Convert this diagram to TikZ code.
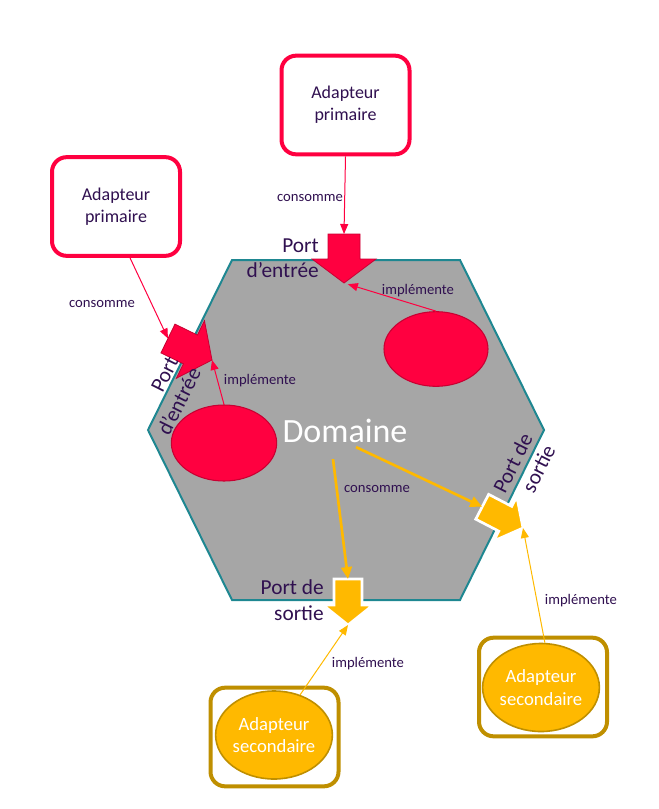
\documentclass[tikz,border=0pt]{standalone}
\usepackage{fontspec}
\setmainfont{Carlito}
\usetikzlibrary{shapes.geometric,arrows.meta,calc}
\definecolor{redA}{RGB}{255,0,64}
\definecolor{redD}{RGB}{200,0,50}
\definecolor{yelA}{RGB}{255,185,0}
\definecolor{goldD}{RGB}{191,143,0}
\definecolor{tealH}{RGB}{30,135,145}
\definecolor{hexg}{RGB}{166,166,166}
\definecolor{txt}{RGB}{48,16,80}
\begin{document}
\begin{tikzpicture}[x=0.75pt,y=-0.75pt,
 pbox/.style={draw=redA, line width=3pt, fill=white, rounded corners=11pt, minimum width=96pt, minimum height=74pt, align=center, text=txt, font=\fontsize{13.5}{16.5}\selectfont},
 sbox/.style={draw=goldD, line width=3pt, rounded corners=11pt, minimum width=96pt, minimum height=74pt},
 rell/.style={ellipse, draw=redD, line width=0.8pt, fill=redA, minimum width=78pt, minimum height=56pt, inner sep=0pt},
 yell/.style={ellipse, draw=goldD, line width=1.2pt, fill=yelA, minimum width=79.5pt, minimum height=66pt, inner sep=0pt, align=center, text=white, font=\fontsize{14}{17}\selectfont},
 lbl/.style={text=txt, font=\fontsize{11}{13}\selectfont, inner sep=0pt},
 portlbl/.style={text=txt, font=\fontsize{16}{19}\selectfont, align=right, inner sep=0pt},
 redline/.style={draw=redA, line width=0.75pt, -{Triangle[length=7.5pt,width=6pt]}},
 yelthin/.style={draw=yelA, line width=0.75pt, -{Triangle[length=7.5pt,width=6pt]}},
 yelthick/.style={draw=yelA, line width=2pt, -{Triangle[length=9pt,width=8pt]}},
 rport/.style={fill=redA, draw=redD, line width=0.6pt, line join=miter},
 yport/.style={fill=yelA, draw=white, line width=2pt, line join=miter},
]
\useasboundingbox (0,0) rectangle (658,809);

% hexagon (domain)
\draw[fill=hexg, draw=tealH, line width=1.5pt] (232,260) -- (460,260) -- (544,430) -- (460,600) -- (232,600) -- (148,430) -- cycle;

% primary ports
\begin{scope}[shift={(344,283)}]
 \draw[rport] (0,0) -- (-32,-24) -- (-16,-24) -- (-16,-49) -- (16,-49) -- (16,-24) -- (32,-24) -- cycle;
 \coordinate (tipT) at (0,0); \coordinate (backT) at (0,-49);
\end{scope}
\begin{scope}[shift={(212,360)}, rotate=64]
 \draw[rport] (0,0) -- (-32,-24) -- (-16,-24) -- (-16,-49) -- (16,-49) -- (16,-24) -- (32,-24) -- cycle;
 \coordinate (tipL) at (0,0); \coordinate (backL) at (0,-49);
\end{scope}

% secondary ports
\begin{scope}[shift={(348,625)}]
 \draw[yport] (0,0) -- (-25,-20) -- (-14,-20) -- (-14,-46) -- (14,-46) -- (14,-20) -- (25,-20) -- cycle;
 \coordinate (tipB) at (0,0); \coordinate (backB) at (0,-46);
\end{scope}
\begin{scope}[shift={(523,528)}, rotate=62.5]
 \draw[yport] (0,0) -- (-25,-20) -- (-14,-20) -- (-14,-46) -- (14,-46) -- (14,-20) -- (25,-20) -- cycle;
 \coordinate (tipR) at (0,0); \coordinate (backR) at (0,-46);
\end{scope}

% primary adapters
\node[pbox] (tbox) at (345.5,105) {Adapteur\\primaire};
\node[pbox] (lbox) at (116,206.5) {Adapteur\\primaire};

% implementations inside the domain
\node[rell] (trE) at (436,349) {};
\node[rell, minimum width=79pt, minimum height=57pt] (lE) at (224,443) {};

% secondary adapters
\node[sbox] (blbox) at (274.5,737) {};
\node[yell] (blE) at (274,735) {Adapteur\\secondaire};
\node[sbox] (rbox) at (543,687) {};
\node[yell] (rE) at (541,687.5) {Adapteur\\secondaire};

% texts
\node[text=white, font=\fontsize{25.5}{30}\selectfont, inner sep=0pt] (dom) at (345,431) {Domaine};
\node[portlbl, anchor=east] (tpl) at (319,258) {Port\\d’entrée};
\node[portlbl, rotate=63.4] (lpl) at (168,396) {Port\\d’entrée};
\node[portlbl, anchor=east] (bpl) at (324,600) {Port de\\sortie};
\node[portlbl, rotate=63.4] (rpl) at (524,469) {Port de\\sortie};

% connectors
\draw[redline] (tbox.south) -- (backT);
\node[lbl] (c1) at (310,198) {consomme};
\draw[redline] ($(lbox.south)+(14,0)$) -- (backL);
\node[lbl] (c2) at (102,304) {consomme};
\draw[redline, shorten >=3pt] (trE.north) -- (tipT);
\node[lbl] (i1) at (418,291) {implémente};
\draw[redline] (lE.north) -- (tipL);
\node[lbl] (i2) at (260,381) {implémente};
\draw[yelthick] ($(dom.south)+(-12,16)$) -- (backB);
\draw[yelthick] ($(dom.south)+(11,4)$) -- (backR);
\node[lbl] (c3) at (377,489) {consomme};
\draw[yelthin] (blE.57) -- (tipB);
\node[lbl] (i3) at (368,664) {implémente};
\draw[yelthin] (rE.85) -- (tipR);
\node[lbl] (i4) at (581,601) {implémente};
\end{tikzpicture}
\end{document}
